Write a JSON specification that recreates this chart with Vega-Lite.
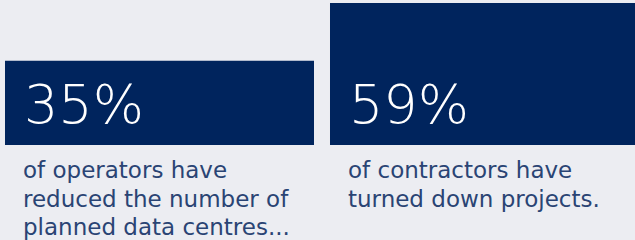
{
  "$schema": "https://vega.github.io/schema/vega-lite/v6.json",
  "width": 635,
  "height": 240,
  "padding": 0,
  "autosize": {"type": "none"},
  "background": "#ecedf2",
  "config": {"view": {"stroke": null}},
  "data": {"values": [
    {"group": "operators", "value": 35, "label": "35%", "caption": "of operators have\nreduced the number of\nplanned data centres..."},
    {"group": "contractors", "value": 59, "label": "59%", "caption": "of contractors have\nturned down projects."}
  ]},
  "encoding": {
    "x": {"field": "group", "type": "nominal", "sort": null, "axis": null,
      "scale": {"range": [0, 644], "paddingInner": 0.04923, "paddingOuter": 0.01538}}
  },
  "layer": [
    {
      "mark": {"type": "bar", "color": "#00245d"},
      "encoding": {
        "y": {"field": "value", "type": "quantitative", "axis": null, "scale": {"domain": [-39.5, 60.25], "nice": false, "zero": false}},
        "y2": {"datum": 0}
      }
    },
    {
      "mark": {"type": "text", "align": "left", "baseline": "alphabetic", "dx": 19, "dy": -21.5, "fontSize": 54, "font": "DejaVu Sans", "fontWeight": 200, "color": "#ffffff"},
      "encoding": {
        "x": {"field": "group", "type": "nominal", "sort": null, "bandPosition": 0},
        "y": {"datum": 0, "type": "quantitative"},
        "text": {"field": "label"}
      }
    },
    {
      "mark": {"type": "text", "align": "left", "baseline": "alphabetic", "dx": 18, "dy": 33.3, "fontSize": 23, "lineHeight": 28.3, "lineBreak": "\n", "font": "DejaVu Sans", "fontWeight": 400, "color": "#2a4474"},
      "encoding": {
        "x": {"field": "group", "type": "nominal", "sort": null, "bandPosition": 0},
        "y": {"datum": 0, "type": "quantitative"},
        "text": {"field": "caption"}
      }
    }
  ]
}
